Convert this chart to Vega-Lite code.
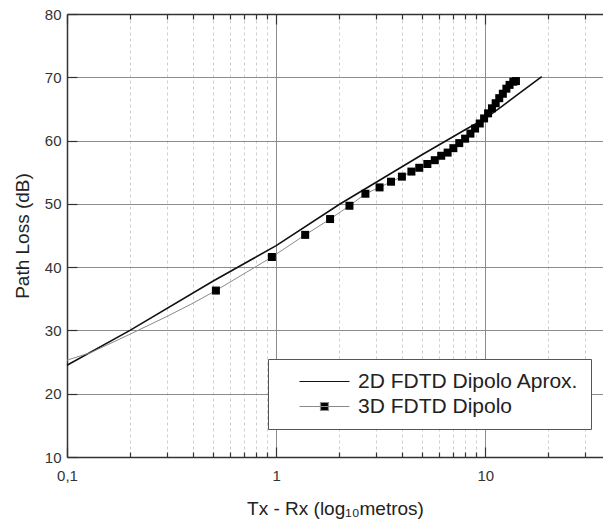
{
  "$schema": "https://vega.github.io/schema/vega-lite/v6.json",
  "width": 536,
  "height": 443,
  "autosize": "none",
  "padding": {"left": 67, "top": 14, "right": 0, "bottom": 67},
  "background": "white",
  "config": {"view": {"stroke": null}, "font": "Liberation Sans"},
  "datasets": {
    "d2": [
      {"distance": 0.1, "loss": 24.5, "series": "2D FDTD Dipolo Aprox."},
      {"distance": 0.2, "loss": 30.0, "series": "2D FDTD Dipolo Aprox."},
      {"distance": 0.5, "loss": 37.8, "series": "2D FDTD Dipolo Aprox."},
      {"distance": 1, "loss": 43.4, "series": "2D FDTD Dipolo Aprox."},
      {"distance": 2, "loss": 49.9, "series": "2D FDTD Dipolo Aprox."},
      {"distance": 5, "loss": 57.8, "series": "2D FDTD Dipolo Aprox."},
      {"distance": 8, "loss": 61.7, "series": "2D FDTD Dipolo Aprox."},
      {"distance": 10, "loss": 63.5, "series": "2D FDTD Dipolo Aprox."},
      {"distance": 12, "loss": 65.4, "series": "2D FDTD Dipolo Aprox."},
      {"distance": 15, "loss": 67.8, "series": "2D FDTD Dipolo Aprox."},
      {"distance": 18.6, "loss": 70.1, "series": "2D FDTD Dipolo Aprox."}
    ],
    "d3": [
      {"distance": 0.1, "loss": 25.3, "series": "3D FDTD Dipolo"},
      {"distance": 0.13, "loss": 26.5, "series": "3D FDTD Dipolo"},
      {"distance": 0.2, "loss": 29.4, "series": "3D FDTD Dipolo"},
      {"distance": 0.3, "loss": 32.2, "series": "3D FDTD Dipolo"},
      {"distance": 0.4, "loss": 34.3, "series": "3D FDTD Dipolo"},
      {"distance": 0.515, "loss": 36.3, "series": "3D FDTD Dipolo"},
      {"distance": 0.954, "loss": 41.6, "series": "3D FDTD Dipolo"},
      {"distance": 1.376, "loss": 45.1, "series": "3D FDTD Dipolo"},
      {"distance": 1.81, "loss": 47.6, "series": "3D FDTD Dipolo"},
      {"distance": 2.24, "loss": 49.7, "series": "3D FDTD Dipolo"},
      {"distance": 2.67, "loss": 51.6, "series": "3D FDTD Dipolo"},
      {"distance": 3.12, "loss": 52.6, "series": "3D FDTD Dipolo"},
      {"distance": 3.54, "loss": 53.5, "series": "3D FDTD Dipolo"},
      {"distance": 3.99, "loss": 54.3, "series": "3D FDTD Dipolo"},
      {"distance": 4.43, "loss": 55.1, "series": "3D FDTD Dipolo"},
      {"distance": 4.83, "loss": 55.7, "series": "3D FDTD Dipolo"},
      {"distance": 5.28, "loss": 56.3, "series": "3D FDTD Dipolo"},
      {"distance": 5.73, "loss": 56.9, "series": "3D FDTD Dipolo"},
      {"distance": 6.15, "loss": 57.6, "series": "3D FDTD Dipolo"},
      {"distance": 6.6, "loss": 58.1, "series": "3D FDTD Dipolo"},
      {"distance": 7.03, "loss": 58.8, "series": "3D FDTD Dipolo"},
      {"distance": 7.5, "loss": 59.6, "series": "3D FDTD Dipolo"},
      {"distance": 8.0, "loss": 60.3, "series": "3D FDTD Dipolo"},
      {"distance": 8.48, "loss": 61.1, "series": "3D FDTD Dipolo"},
      {"distance": 8.93, "loss": 61.9, "series": "3D FDTD Dipolo"},
      {"distance": 9.4, "loss": 62.7, "series": "3D FDTD Dipolo"},
      {"distance": 9.86, "loss": 63.5, "series": "3D FDTD Dipolo"},
      {"distance": 10.3, "loss": 64.3, "series": "3D FDTD Dipolo"},
      {"distance": 10.75, "loss": 65.1, "series": "3D FDTD Dipolo"},
      {"distance": 11.2, "loss": 65.9, "series": "3D FDTD Dipolo"},
      {"distance": 11.65, "loss": 66.7, "series": "3D FDTD Dipolo"},
      {"distance": 12.12, "loss": 67.4, "series": "3D FDTD Dipolo"},
      {"distance": 12.6, "loss": 68.2, "series": "3D FDTD Dipolo"},
      {"distance": 13.05, "loss": 68.8, "series": "3D FDTD Dipolo"},
      {"distance": 13.6, "loss": 69.3, "series": "3D FDTD Dipolo"},
      {"distance": 14.0, "loss": 69.4, "series": "3D FDTD Dipolo"}
    ]
  },
  "layer": [
    {
      "data": {"name": "d2"},
      "mark": {"type": "line", "color": "#111111", "strokeWidth": 1.6},
      "encoding": {
        "x": {
          "field": "distance", "type": "quantitative",
          "scale": {"type": "log", "domain": [0.1, 36.5], "nice": false},
          "axis": {
            "orient": "bottom",
            "values": [0.1, 0.2, 0.3, 0.4, 0.5, 0.6, 0.7, 0.8, 0.9, 1, 2, 3, 4, 5, 6, 7, 8, 9, 10, 20, 30],
            "format": "~g",
            "labelExpr": "indexof([0.1, 1, 10], datum.value) >= 0 ? replace(datum.label, '.', ',') : ''",
            "labelFlush": false,
            "labelOverlap": false,
            "labelFontSize": 15,
            "labelColor": "#333333",
            "labelPadding": 21,
            "title": "Tx - Rx (log₁₀metros)",
            "titleFontSize": 19,
            "titleFontWeight": "normal",
            "titleColor": "#222222",
            "titleY": 51,
            "titleBaseline": "middle",
            "domainColor": "#333333",
            "domainWidth": 1.5,
            "tickColor": "#333333",
            "tickWidth": 1.2,
            "tickSize": {"condition": {"test": "indexof([0.1, 1, 10], datum.value) >= 0", "value": -10}, "value": -5},
            "grid": true,
            "gridColor": {"condition": {"test": "indexof([0.1, 1, 10], datum.value) >= 0", "value": "#8c8c8c"}, "value": "#cfcfcf"},
            "gridDash": {"condition": {"test": "indexof([0.1, 1, 10], datum.value) >= 0", "value": []}, "value": [3, 3]},
            "gridWidth": 1
          }
        },
        "y": {
          "field": "loss", "type": "quantitative",
          "scale": {"domain": [10, 80], "nice": false},
          "axis": {
            "values": [10, 15, 20, 25, 30, 35, 40, 45, 50, 55, 60, 65, 70, 75, 80],
            "labelExpr": "datum.value % 10 === 0 ? datum.label : ''",
            "labelFontSize": 15,
            "labelColor": "#333333",
            "labelPadding": 16,
            "title": "Path Loss (dB)",
            "titleFontSize": 19,
            "titleFontWeight": "normal",
            "titleColor": "#222222",
            "titleX": -45,
            "titleY": 221.5,
            "titleBaseline": "middle",
            "domainColor": "#333333",
            "domainWidth": 1.5,
            "tickColor": "#333333",
            "tickWidth": 1.2,
            "tickSize": {"condition": {"test": "datum.value % 10 === 0", "value": -10}, "value": -5},
            "grid": true,
            "gridColor": {"condition": {"test": "datum.value % 10 === 0", "value": "#8c8c8c"}, "value": "#dcdcdc"},
            "gridWidth": 1
          }
        }
      }
    },
    {
      "data": {"name": "d3"},
      "mark": {"type": "line", "color": "#8a8a8a", "strokeWidth": 1},
      "encoding": {
        "x": {
          "field": "distance", "type": "quantitative",
          "axis": {
            "orient": "top",
            "values": [0.1, 0.2, 0.3, 0.4, 0.5, 0.6, 0.7, 0.8, 0.9, 1, 2, 3, 4, 5, 6, 7, 8, 9, 10, 20, 30],
            "labels": false,
            "title": null,
            "grid": false,
            "domainColor": "#333333",
            "domainWidth": 1.5,
            "tickColor": "#333333",
            "tickWidth": 1.2,
            "tickSize": {"condition": {"test": "indexof([0.1, 1, 10], datum.value) >= 0", "value": -10}, "value": -5}
          }
        },
        "y": {"field": "loss", "type": "quantitative"}
      }
    },
    {
      "data": {"name": "d3"},
      "transform": [{"filter": "datum.distance >= 0.5"}],
      "mark": {"type": "point", "shape": "square", "filled": true, "color": "#000000", "size": 64, "opacity": 1},
      "encoding": {
        "x": {"field": "distance", "type": "quantitative", "axis": null},
        "y": {"field": "loss", "type": "quantitative"}
      }
    },
    {
      "data": {"name": "d2"},
      "mark": {"type": "point", "filled": true, "fill": "#000000", "opacity": 0, "size": 100},
      "encoding": {
        "x": {"field": "distance", "type": "quantitative", "axis": null},
        "y": {"field": "loss", "type": "quantitative"},
        "shape": {
          "field": "series", "type": "nominal",
          "scale": {"domain": ["2D FDTD Dipolo Aprox.", "3D FDTD Dipolo"], "range": ["M-5,0H5", "M-5,0H5M-0.8,-0.8H0.8V0.8H-0.8Z"]},
          "legend": {
            "title": null, "orient": "none", "legendX": 201, "legendY": 345,
            "padding": 12, "strokeColor": "#555555", "fillColor": "white",
            "symbolSize": 100, "symbolOffset": 34, "labelOffset": 23, "rowPadding": 3,
            "labelFontSize": 21, "labelColor": "#222222", "labelLimit": 400,
            "symbolStrokeWidth": 1.2, "symbolFillColor": "#000000",
            "encode": {"symbols": {"update": {"opacity": {"value": 1}, "fill": {"value": "#000000"}, "fillOpacity": {"value": 1}, "strokeOpacity": {"value": 1}}}}
          }
        },
        "stroke": {
          "field": "series", "type": "nominal",
          "scale": {"domain": ["2D FDTD Dipolo Aprox.", "3D FDTD Dipolo"], "range": ["#111111", "#8a8a8a"]},
          "legend": {
            "title": null, "orient": "none", "legendX": 201, "legendY": 345,
            "padding": 12, "strokeColor": "#555555", "fillColor": "white",
            "symbolSize": 100, "symbolOffset": 34, "labelOffset": 23, "rowPadding": 3,
            "labelFontSize": 21, "labelColor": "#222222", "labelLimit": 400,
            "symbolStrokeWidth": 1.2, "symbolFillColor": "#000000",
            "encode": {"symbols": {"update": {"opacity": {"value": 1}, "fill": {"value": "#000000"}, "fillOpacity": {"value": 1}, "strokeOpacity": {"value": 1}}}}
          }
        }
      }
    }
  ],
  "resolve": {"axis": {"x": "independent"}}
}
